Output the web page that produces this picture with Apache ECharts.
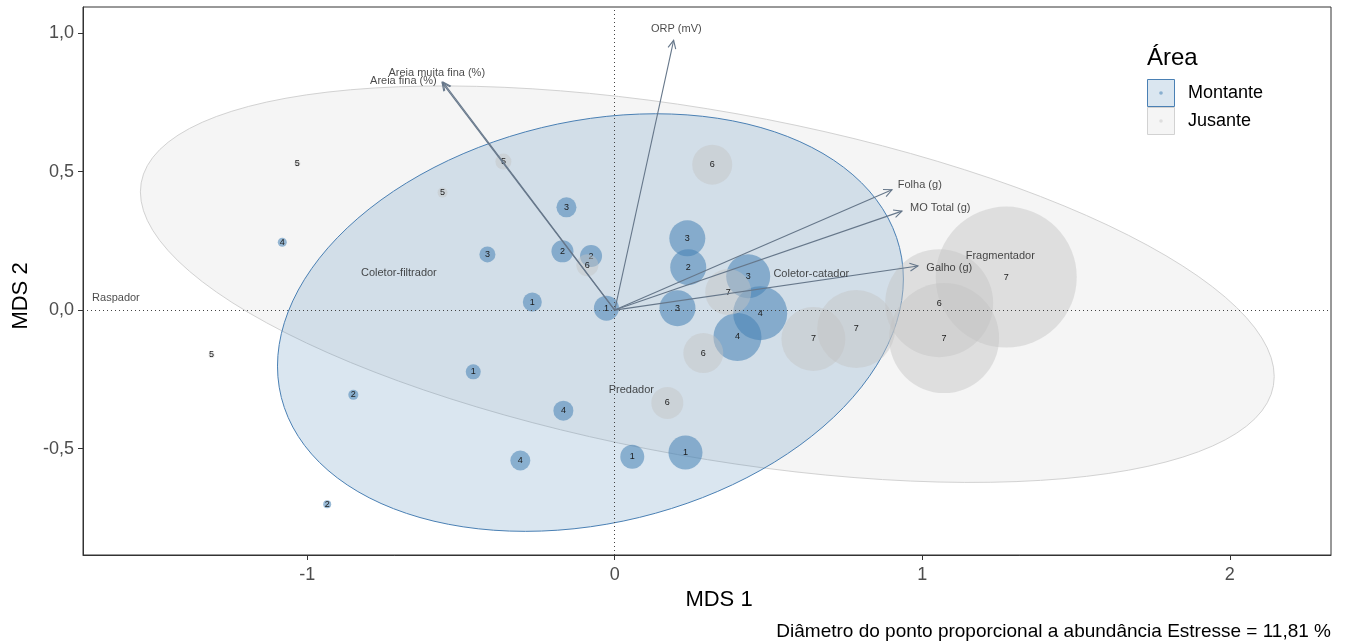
<!DOCTYPE html>
<html>
<head>
<meta charset="utf-8">
<script src="https://cdn.jsdelivr.net/npm/echarts@6/dist/echarts.min.js"></script>
<style>
  html, body { margin: 0; padding: 0; background: #ffffff; }
  #chart { width: 1347px; height: 643px; }
</style>
</head>
<body>
<div id="chart"></div>
<script>
// NMDS site scores (MDS 1, MDS 2), abundance and site number, upstream stations
const montanteMds1  = [-0.157, -0.414, -0.170, -0.077, -1.081, -0.268, -0.027, 0.236, 0.239, 0.204, 0.434, 0.473, 0.399, -0.460, -0.850, -0.935, -0.167, -0.307, 0.057, 0.230];
const montanteMds2  = [0.371, 0.201, 0.212, 0.195, 0.245, 0.029, 0.007, 0.259, 0.155, 0.007, 0.122, -0.011, -0.097, -0.223, -0.306, -0.701, -0.363, -0.543, -0.529, -0.514];
const montanteAbund = [10, 8, 11, 11, 4.5, 9.5, 12.5, 18, 18, 18, 22, 27, 24, 7.5, 5, 4, 10, 10, 12, 17];
const montanteSite  = ['3', '3', '2', '2', '4', '1', '1', '3', '2', '3', '3', '4', '4', '1', '2', '2', '4', '4', '1', '1'];

// Downstream stations
const jusanteMds1  = [-1.032, -0.560, -0.362, -1.311, 0.317, -0.089, 0.369, 0.288, 0.171, 0.646, 0.785, 1.055, 1.071, 1.273];
const jusanteMds2  = [0.529, 0.424, 0.536, -0.162, 0.525, 0.162, 0.065, -0.155, -0.335, -0.104, -0.068, 0.025, -0.101, 0.119];
const jusanteAbund = [3, 5, 8, 3, 20, 11, 23, 20, 16, 32, 39, 54, 55, 70.5];
const jusanteSite  = ['5', '5', '5', '5', '6', '6', '7', '6', '6', '7', '7', '6', '7', '7'];

// 95% ellipses per area: centre (x, y) and shape matrix (sxx, sxy, syy)
const montanteEllipse = [-0.079, -0.045, 1.0355, 0.16, 0.568];
const jusanteEllipse  = [0.301, 0.0935, 3.398, -0.614, 0.512];

// Environmental vectors (fitted arrows) and where their names sit
const envNames  = ['ORP (mV)', 'Areia muita fina (%)', 'Areia fina (%)', 'Folha (g)', 'MO Total (g)', 'Galho (g)'];
const envMds1   = [0.1915, -0.5585, -0.5615, 0.9015, 0.9340, 0.9860];
const envMds2   = [0.9737, 0.8232, 0.8212, 0.4342, 0.3572, 0.1594];
const envLabelX = [0.2002, -0.5787, -0.6873, 0.9919, 1.0585, 1.0878];
const envLabelY = [1.0144, 0.8561, 0.8273, 0.4532, 0.3669, 0.1511];

// Functional feeding groups (species scores)
const groupNames = ['Raspador', 'Coletor-filtrador', 'Coletor-catador', 'Predador', 'Fragmentador'];
const groupMds1  = [-1.6219, -0.7019, 0.6391, 0.0540, 1.2536];
const groupMds2  = [0.0432, 0.1331, 0.1295, -0.2878, 0.1942];

// Axis ranges and tick labels
const xRange = [-1.729, 2.329];
const yRange = [-0.884, 1.094];
const xTicks = [-1, 0, 1, 2];
const xTickLabels = ['-1', '0', '1', '2'];
const yTicks = [-0.5, 0, 0.5, 1];
const yTickLabels = ['-0,5', '0,0', '0,5', '1,0'];

const legendTitle = 'Área';
const areaNames = ['Montante', 'Jusante'];
const caption = 'Diâmetro do ponto proporcional a abundância Estresse = 11,81 %';

// ---- styling ----
const FONT = 'Liberation Sans, Arial, Helvetica, sans-serif';
const BLUE_FILL = 'rgba(70,130,180,0.2)';
const BLUE_LINE = '#4a80b4';
const BLUE_PT = 'rgba(70,130,180,0.55)';
const GREY_FILL = 'rgba(205,205,205,0.2)';
const GREY_LINE = '#d2d2d2';
const GREY_PT = 'rgba(195,195,195,0.45)';
const ARROW = '#66778a';
const SIZE_K = 2;            // symbol diameter in px per abundance unit
const ELLIPSE_SEGMENTS = 120;

const zip3 = (a, b, c, d) => a.map((v, i) => [v, b[i], c[i], d[i]]);

function ellipseSeries(name, p, fill, stroke, z, extra) {
  return Object.assign({
    type: 'custom',
    name: name,
    silent: true,
    z: z,
    data: [[p[0], p[1]]],
    renderItem: function (params, api) {
      const cx = p[0], cy = p[1], sxx = p[2], sxy = p[3], syy = p[4];
      const l11 = Math.sqrt(sxx);
      const l21 = sxy / l11;
      const l22 = Math.sqrt(syy - l21 * l21);
      const pts = [];
      for (let i = 0; i < ELLIPSE_SEGMENTS; i++) {
        const t = 2 * Math.PI * i / ELLIPSE_SEGMENTS;
        const c = Math.cos(t), s = Math.sin(t);
        pts.push(api.coord([cx + l11 * c, cy + l21 * c + l22 * s]));
      }
      return { type: 'polygon', shape: { points: pts }, style: { fill: fill, stroke: stroke, lineWidth: 1 } };
    }
  }, extra || {});
}

function bubbleSeries(name, rows, color, z) {
  return {
    type: 'scatter',
    name: name,
    z: z,
    silent: true,
    data: rows,
    symbolSize: function (v) { return v[2] * SIZE_K; },
    itemStyle: { color: color, opacity: 1 },
    label: {
      show: true,
      position: 'inside',
      formatter: function (p) { return p.value[3]; },
      fontSize: 9,
      color: '#1a1a1a',
      fontFamily: FONT
    }
  };
}

function textSeries(names, xs, ys, z) {
  return {
    type: 'scatter',
    silent: true,
    z: z,
    symbolSize: 0,
    data: names.map((n, i) => ({ value: [xs[i], ys[i]], name: n })),
    label: {
      show: true,
      position: 'inside',
      formatter: '{b}',
      fontSize: 11,
      color: '#1a1a1a',
      fontFamily: FONT
    }
  };
}

const chart = echarts.init(document.getElementById('chart'), null, { renderer: 'canvas' });

chart.setOption({
  animation: false,
  backgroundColor: '#ffffff',
  textStyle: { fontFamily: FONT },
  grid: {
    left: 83, right: 16, top: 7, bottom: 88,
    show: true, borderColor: '#333333', borderWidth: 1, backgroundColor: 'transparent'
  },
  xAxis: {
    type: 'value',
    min: xRange[0], max: xRange[1],
    splitLine: { show: false },
    axisLine: { show: true, onZero: false, lineStyle: { color: '#333333', width: 1 } },
    axisTick: { show: true, customValues: xTicks, length: 5, lineStyle: { color: '#333333', width: 1 } },
    axisLabel: {
      customValues: xTicks,
      formatter: function (v) { return xTickLabels[xTicks.indexOf(v)]; },
      fontSize: 18, color: '#4d4d4d', margin: 11
    },
    name: 'MDS 1',
    nameLocation: 'middle',
    nameGap: 34,
    nameTextStyle: { fontSize: 22, color: '#000000', padding: [0, 0, 0, 24] }
  },
  yAxis: {
    type: 'value',
    min: yRange[0], max: yRange[1],
    splitLine: { show: false },
    axisLine: { show: true, onZero: false, lineStyle: { color: '#333333', width: 1 } },
    axisTick: { show: true, customValues: yTicks, length: 5, lineStyle: { color: '#333333', width: 1 } },
    axisLabel: {
      customValues: yTicks,
      formatter: function (v) { return yTickLabels[yTicks.indexOf(v)]; },
      fontSize: 18, color: '#4d4d4d', margin: 9
    },
    name: 'MDS 2',
    nameLocation: 'middle',
    nameGap: 37,
    nameTextStyle: { fontSize: 22, color: '#000000', padding: [0, 30, 0, 0] }
  },
  series: [
    ellipseSeries(areaNames[1], jusanteEllipse, GREY_FILL, GREY_LINE, 1, {
      markLine: {
        silent: true,
        symbol: 'none',
        label: { show: false },
        lineStyle: { type: [1, 3], color: '#444444', width: 1 },
        data: [{ xAxis: 0 }, { yAxis: 0 }]
      }
    }),
    ellipseSeries(areaNames[0], montanteEllipse, BLUE_FILL, BLUE_LINE, 2),
    bubbleSeries(areaNames[0], zip3(montanteMds1, montanteMds2, montanteAbund, montanteSite), BLUE_PT, 3),
    bubbleSeries(areaNames[1], zip3(jusanteMds1, jusanteMds2, jusanteAbund, jusanteSite), GREY_PT, 4),
    {
      type: 'custom',
      silent: true,
      z: 5,
      data: envMds1.map((x, i) => [x, envMds2[i]]),
      renderItem: function (params, api) {
        const o = api.coord([0, 0]);
        const p = api.coord([api.value(0), api.value(1)]);
        const ang = Math.atan2(p[1] - o[1], p[0] - o[0]);
        const h = 9, a = Math.PI / 7;
        const h1 = [p[0] - h * Math.cos(ang - a), p[1] - h * Math.sin(ang - a)];
        const h2 = [p[0] - h * Math.cos(ang + a), p[1] - h * Math.sin(ang + a)];
        return {
          type: 'group',
          children: [
            { type: 'line', shape: { x1: o[0], y1: o[1], x2: p[0], y2: p[1] }, style: { stroke: ARROW, lineWidth: 1.1 } },
            { type: 'polyline', shape: { points: [h1, p, h2] }, style: { stroke: ARROW, lineWidth: 1.1, fill: null } }
          ]
        };
      }
    },
    textSeries(envNames, envLabelX, envLabelY, 6),
    textSeries(groupNames, groupMds1, groupMds2, 6)
  ],
  graphic: [
    { type: 'text', x: 1147, y: 58, style: { text: legendTitle, fontSize: 24, fill: '#000', fontFamily: FONT, verticalAlign: 'middle' } },
    { type: 'rect', shape: { x: 1147.5, y: 79.5, width: 27, height: 27 }, style: { fill: BLUE_FILL, stroke: BLUE_LINE, lineWidth: 1 } },
    { type: 'circle', shape: { cx: 1161, cy: 93, r: 1.8 }, style: { fill: BLUE_PT } },
    { type: 'text', x: 1188, y: 93, style: { text: areaNames[0], fontSize: 18, fill: '#000', fontFamily: FONT, verticalAlign: 'middle' } },
    { type: 'rect', shape: { x: 1147.5, y: 107.5, width: 27, height: 27 }, style: { fill: GREY_FILL, stroke: GREY_LINE, lineWidth: 1 } },
    { type: 'circle', shape: { cx: 1161, cy: 121, r: 1.8 }, style: { fill: GREY_PT } },
    { type: 'text', x: 1188, y: 121, style: { text: areaNames[1], fontSize: 18, fill: '#000', fontFamily: FONT, verticalAlign: 'middle' } },
    { type: 'text', x: 1331, y: 632, style: { text: caption, fontSize: 19, fill: '#000', fontFamily: FONT, align: 'right', verticalAlign: 'middle' } }
  ]
});
</script>
</body>
</html>
